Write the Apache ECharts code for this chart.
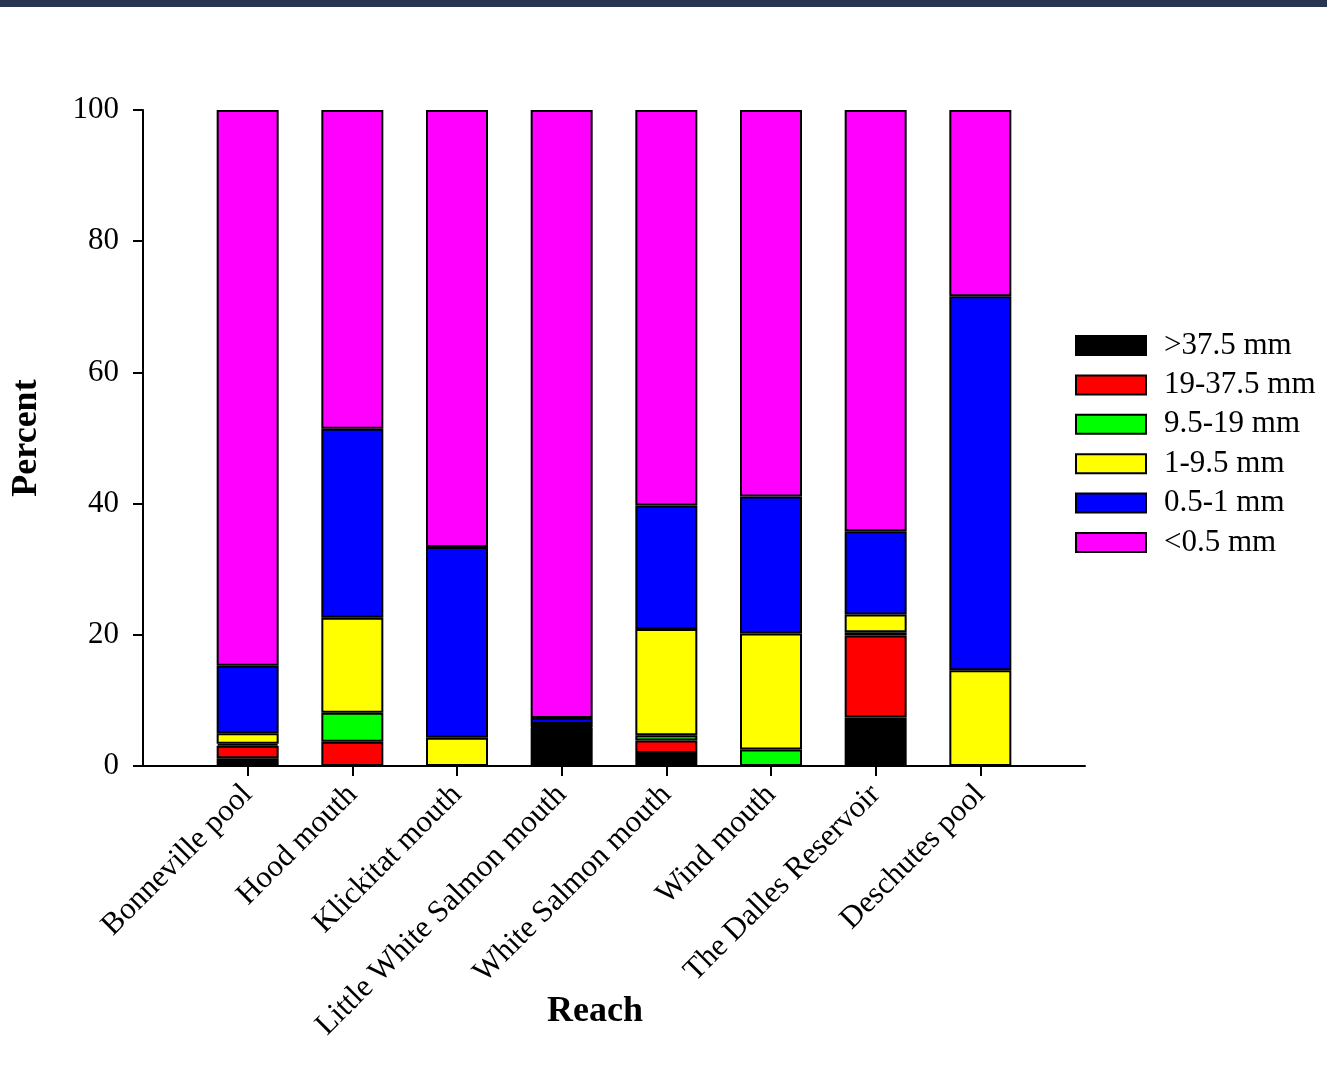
<!DOCTYPE html>
<html>
<head>
<meta charset="utf-8">
<script src="https://cdn.jsdelivr.net/npm/echarts@6/dist/echarts.min.js"></script>
<style>
html,body{margin:0;padding:0;background:#fff;}
#chart{width:1327px;height:1078px;}
</style>
</head>
<body>
<div id="chart"></div>
<script>
var categories = ['Bonneville pool','Hood mouth','Klickitat mouth','Little White Salmon mouth','White Salmon mouth','Wind mouth','The Dalles Reservoir','Deschutes pool'];
var seriesNames = ['>37.5 mm','19-37.5 mm','9.5-19 mm','1-9.5 mm','0.5-1 mm','<0.5 mm'];
var gt375   = [1.2, 0,   0,    5.8, 2.0,  0,    7.4,  0];
var s19_375 = [1.9, 3.7, 0,    0,   1.9,  0,    12.5, 0];
var s95_19  = [0.3, 4.4, 0,    0.1, 0.8,  2.5,  0.5,  0];
var s1_95   = [1.6, 14.5,4.3,  0.5, 16.2, 17.7, 2.7,  14.6];
var s05_1   = [10.3,28.8,29.1, 0.9, 18.8, 20.9, 12.7, 57.0];
var lt05    = [84.7,48.6,66.6, 92.7,60.3, 58.9, 64.2, 28.4];
var yTicks = [0,20,40,60,80,100];

var colors = ['#000000','#ff0000','#00ff00','#ffff00','#0000ff','#ff00ff'];
var values = [gt375, s19_375, s95_19, s1_95, s05_1, lt05];
var FONT = '"Liberation Serif","Times New Roman",serif';

function pad(arr){ return ['-'].concat(arr.map(function(v){return v===0?'-':v;})).concat(['-']); }
var cats = [''].concat(categories).concat(['']);

var chart = echarts.init(document.getElementById('chart'), null, {renderer:'canvas'});
var option = {
  animation:false,
  backgroundColor:'#ffffff',
  graphic:[{type:'rect', left:0, top:0, shape:{width:1327,height:7}, style:{fill:'#293650'}, silent:true}],
  grid:{left:143, right:242, top:110, bottom:312, containLabel:false, outerBoundsMode:'none'},
  legend:{
    orient:'vertical', left:1075, top:330, padding:0,
    itemWidth:70, itemHeight:19, itemGap:8.4,
    data:seriesNames,
    icon:'rect',
    textStyle:{fontFamily:FONT, fontSize:31, color:'#000', padding:[0,0,0,13]}
  },
  xAxis:{
    type:'category', data:cats, boundaryGap:false,
    axisLine:{lineStyle:{color:'#000', width:2}},
    axisTick:{length:10, lineStyle:{color:'#000', width:2}, interval:function(i,v){return v!=='';}},
    axisLabel:{rotate:45, fontFamily:FONT, fontSize:31, color:'#000', margin:24, interval:0},
    name:'Reach', nameLocation:'middle', nameGap:228, nameMoveOverlap:false,
    nameTextStyle:{fontFamily:FONT, fontSize:36, fontWeight:'bold', color:'#000', padding:[0,38,0,0]}
  },
  yAxis:{
    type:'value', min:0, max:100, interval:20,
    axisLine:{show:true, lineStyle:{color:'#000', width:2}},
    axisTick:{show:true, length:10, lineStyle:{color:'#000', width:2}},
    splitLine:{show:false},
    axisLabel:{fontFamily:FONT, fontSize:31, color:'#000', margin:24,
      formatter:function(v){return yTicks.indexOf(v)>=0?String(v):'';}},
    name:'Percent', nameLocation:'middle', nameGap:98, nameMoveOverlap:false,
    nameTextStyle:{fontFamily:FONT, fontSize:36, fontWeight:'bold', color:'#000'}
  },
  series: seriesNames.map(function(n,i){
    return {
      name:n, type:'bar', stack:'total', barWidth:62,
      data:pad(values[i]),
      itemStyle:{color:colors[i], borderColor:'#000', borderWidth:2}
    };
  })
};
chart.setOption(option);
</script>
</body>
</html>
